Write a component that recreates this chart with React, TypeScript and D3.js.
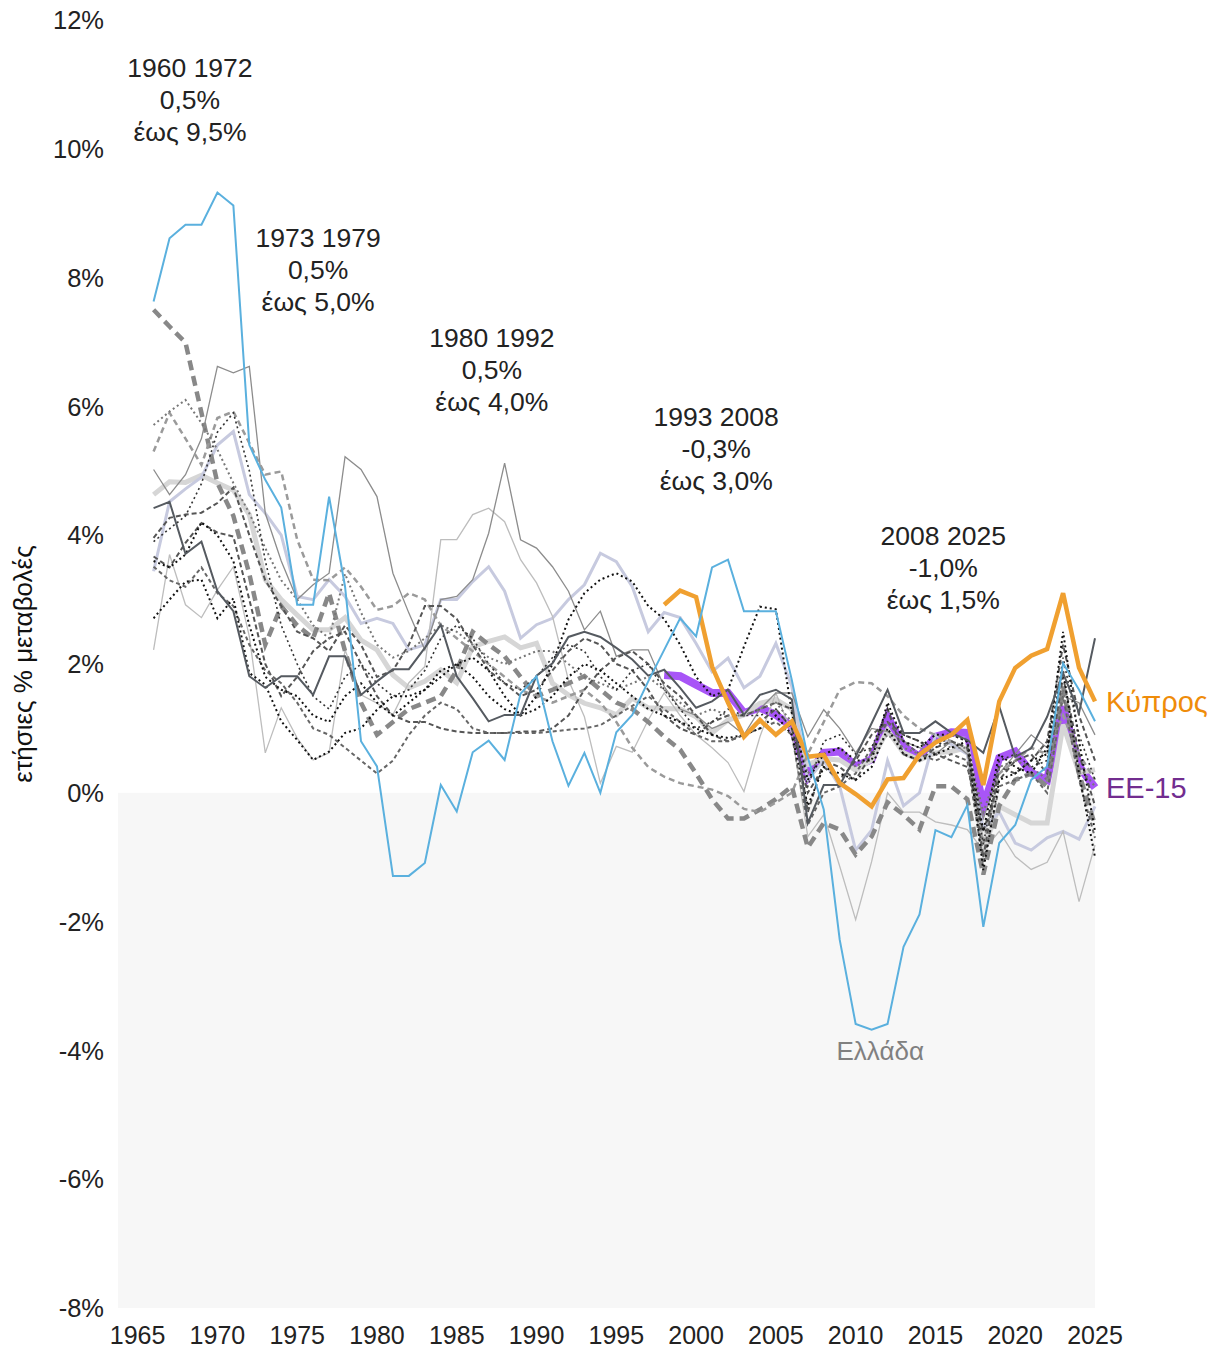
import React from 'react';
import * as d3 from 'd3';

// years shown on the chart
const years = d3.range(1966, 2026);
const yearsRecent = d3.range(1998, 2026);

const xTicks = [1965, 1970, 1975, 1980, 1985, 1990, 1995, 2000, 2005, 2010, 2015, 2020, 2025];
const yTicks = [-8, -6, -4, -2, 0, 2, 4, 6, 8, 10, 12];

// annual % change
const greece = [
  7.63, 8.61, 8.82, 8.82, 9.32, 9.12, 5.40, 4.86, 4.43, 2.92,
  2.92, 4.60, 3.20, 0.80, 0.41, -1.29, -1.29, -1.09, 0.12, -0.29,
  0.63, 0.81, 0.51, 1.54, 1.81, 0.80, 0.11, 0.62, 0.00, 0.94,
  1.21, 1.73, 2.22, 2.71, 2.43, 3.50, 3.62, 2.82, 2.82, 2.82,
  1.75, 0.55, -0.26, -2.28, -3.59, -3.68, -3.59, -2.39, -1.89, -0.58,
  -0.69, -0.19, -2.08, -0.78, -0.50, 0.20, 0.41, 2.01, 1.60, 1.11,
];
const cyprus = [
  2.92, 3.14, 3.04, 1.96, 1.40, 0.87, 1.13, 0.90, 1.11, 0.56,
  0.59, 0.15, -0.02, -0.21, 0.21, 0.23, 0.59, 0.78, 0.90, 1.13,
  0.12, 1.42, 1.94, 2.13, 2.23, 3.10, 1.94, 1.42,
];
const eu15 = [
  1.83, 1.81, 1.68, 1.55, 1.55, 1.24, 1.32, 1.21, 1.03, 0.25,
  0.62, 0.64, 0.41, 0.52, 1.18, 0.72, 0.56, 0.87, 0.94, 0.93,
  -0.21, 0.54, 0.64, 0.31, 0.20, 1.34, 0.41, 0.08,
];
// the other EU-15 countries (grey lines)
const greyThick = [
  4.63, 4.83, 4.82, 4.93, 4.81, 4.70, 4.32, 3.31, 3.00, 2.76,
  2.53, 2.53, 2.72, 2.37, 2.22, 1.83, 1.63, 1.73, 1.91, 1.71,
  2.27, 2.35, 2.42, 2.25, 2.32, 1.70, 1.52, 1.39, 1.32, 1.21,
  1.47, 1.32, 1.31, 1.30, 1.18, 0.93, 1.13, 1.21, 1.39, 1.45,
  1.30, 0.44, 0.53, 0.51, 0.35, 0.51, 0.97, 0.62, 0.51, 0.62,
  0.64, 0.70, -0.88, -0.21, -0.34, -0.47, -0.47, 1.06, 0.31, 0.36,
];
const lavender = [
  3.44, 4.52, 4.72, 4.90, 5.40, 5.61, 4.63, 4.34, 4.00, 3.05,
  3.00, 3.31, 3.05, 2.63, 2.71, 2.63, 2.22, 2.30, 3.00, 3.00,
  3.28, 3.51, 3.13, 2.40, 2.61, 2.71, 3.00, 3.23, 3.72, 3.59,
  3.20, 2.50, 2.80, 2.72, 2.32, 1.88, 2.09, 1.63, 1.81, 2.32,
  1.65, 0.20, 0.50, 0.10, -0.89, -0.58, 0.50, -0.20, 0.00, 0.90,
  0.75, 0.60, -0.55, -0.30, -0.78, -0.89, -0.70, -0.60, -0.72, -0.21,
];
const darkSolid = [
  4.42, 4.52, 3.71, 3.90, 3.13, 2.82, 1.81, 1.63, 1.81, 1.81,
  1.52, 2.12, 2.12, 1.52, 1.73, 1.92, 1.92, 2.25, 2.61, 1.81,
  1.47, 1.11, 1.21, 1.21, 1.82, 2.01, 2.42, 2.50, 2.42, 2.25,
  2.07, 1.82, 1.91, 1.63, 1.32, 1.42, 1.60, 1.21, 1.52, 1.60,
  1.45, -0.47, 0.12, 0.12, 0.56, 1.08, 1.60, 0.93, 0.93, 1.11,
  0.93, 0.82, 0.62, 1.34, 0.56, 0.69, 1.18, 1.86, 1.24, 2.40,
];
const midThin = [
  5.02, 4.63, 4.94, 5.50, 6.62, 6.52, 6.62, 4.34, 3.60, 3.00,
  3.23, 3.41, 5.22, 5.02, 4.60, 3.41, 2.79, 2.22, 3.00, 3.05,
  3.31, 4.03, 5.12, 3.93, 3.80, 3.51, 3.13, 2.53, 2.82, 2.12,
  2.22, 2.22, 1.65, 1.30, 1.20, 1.00, 1.10, 0.90, 1.30, 1.55,
  1.55, 0.87, 1.29, 1.00, 0.62, 1.00, 0.95, 0.80, 0.70, 0.60,
  0.80, 0.60, -0.40, 0.30, 0.60, 0.90, 0.70, 1.50, 1.40, 0.90,
];
const lightThin = [
  2.22, 3.70, 2.92, 2.72, 3.15, 3.51, 2.43, 0.62, 1.32, 0.85,
  0.51, 0.62, 2.22, 1.52, 1.39, 1.21, 1.71, 1.96, 3.93, 3.93,
  4.32, 4.42, 4.21, 3.62, 3.26, 2.74, 1.75, 1.18, 0.15, 0.72,
  0.63, 1.13, 1.55, 1.20, 0.90, 0.70, 0.47, 0.02, 0.87, 1.55,
  0.93, -0.68, -0.34, -1.14, -1.97, -1.07, 0.00, -0.30, -0.30, -0.45,
  -0.50, -0.57, -0.90, -0.60, -0.99, -1.19, -1.08, -0.60, -1.69, -0.81,
];
const thickDash = [
  7.50, 7.24, 6.99, 5.90, 4.81, 4.30, 3.40, 2.30, 2.90, 2.60,
  2.40, 3.10, 2.20, 1.40, 0.90, 1.10, 1.30, 1.40, 1.50, 1.90,
  2.50, 2.30, 2.12, 1.80, 1.50, 1.60, 1.70, 1.81, 1.60, 1.40,
  1.30, 1.10, 0.87, 0.67, 0.30, -0.10, -0.40, -0.40, -0.26, -0.10,
  0.10, -0.85, -0.47, -0.57, -0.96, -0.68, -0.15, -0.34, -0.57, 0.10,
  0.10, -0.10, -1.27, -0.20, 0.20, 0.30, 0.10, 1.65, 0.30, -0.50,
];
const midDash = [
  5.30, 5.90, 5.50, 5.09, 5.82, 5.92, 5.43, 4.94, 4.99, 3.93,
  3.31, 3.30, 3.50, 3.20, 2.84, 2.90, 3.10, 3.00, 2.60, 2.40,
  2.20, 2.00, 1.80, 1.60, 1.50, 1.40, 1.50, 1.60, 1.40, 1.10,
  0.70, 0.40, 0.25, 0.15, 0.10, 0.05, -0.05, -0.25, -0.30, -0.15,
  0.00, 0.60, 1.10, 1.60, 1.72, 1.70, 1.50, 1.20, 1.00, 0.90,
  0.80, 0.70, -0.80, 0.30, 0.50, 0.70, 0.60, 1.20, 0.60, 0.20,
];
const darkDashA = [
  3.96, 4.27, 4.32, 4.35, 4.50, 4.74, 4.00, 3.30, 2.90, 2.50,
  2.40, 2.20, 2.60, 2.30, 1.80, 1.90, 2.30, 2.90, 2.90, 2.70,
  2.30, 1.90, 1.70, 1.50, 1.60, 1.90, 2.20, 2.40, 2.30, 2.00,
  1.90, 1.60, 1.20, 1.00, 0.90, 1.10, 1.20, 1.20, 1.30, 1.40,
  1.30, -0.30, 0.50, 0.40, 0.20, 0.60, 1.30, 0.60, 0.50, 0.70,
  0.80, 0.70, -1.00, 0.40, 0.30, 0.50, 0.80, 2.30, 1.20, 0.50,
];
const darkDashB = [
  3.67, 3.50, 3.88, 4.19, 4.04, 3.98, 3.00, 2.00, 1.50, 1.80,
  2.20, 2.40, 2.50, 2.00, 1.50, 1.20, 1.10, 1.10, 1.00, 0.95,
  0.93, 0.93, 0.93, 0.95, 0.95, 1.00, 1.20, 1.60, 1.90, 2.10,
  2.20, 2.00, 1.70, 1.50, 1.20, 0.90, 0.80, 0.90, 1.10, 1.30,
  1.00, 0.00, 0.40, 0.20, 0.50, 0.90, 1.10, 0.90, 0.80, 0.60,
  0.50, 0.40, -0.60, 0.20, 0.50, 0.60, 0.30, 1.80, 0.60, -0.20,
];
const darkDashC = [
  3.51, 3.30, 3.20, 3.50, 3.10, 2.90, 2.30, 1.90, 1.70, 1.40,
  1.00, 0.90, 0.70, 0.50, 0.30, 0.50, 0.90, 1.20, 1.40, 1.30,
  1.00, 0.93, 0.93, 0.93, 0.93, 0.95, 0.98, 1.00, 1.05, 1.20,
  1.35, 1.50, 1.30, 1.10, 0.90, 0.80, 0.80, 0.90, 1.00, 1.10,
  0.90, -0.50, 0.00, 0.10, 0.30, 0.70, 1.10, 0.80, 0.60, 0.50,
  0.60, 0.50, -1.10, 0.10, 0.20, 0.30, 0.00, 1.50, 0.20, -0.70,
];
const dotA = [
  2.71, 3.00, 3.28, 3.31, 2.71, 3.02, 1.86, 1.68, 1.11, 0.82,
  0.51, 0.64, 0.93, 1.00, 1.29, 1.50, 1.50, 1.60, 1.80, 2.00,
  2.10, 1.90, 1.50, 1.20, 1.30, 1.50, 1.80, 2.00, 1.90, 1.70,
  1.50, 1.30, 1.20, 1.10, 1.00, 0.90, 0.85, 0.90, 1.00, 1.20,
  0.90, -0.20, 0.40, 0.30, 0.20, 0.40, 1.00, 0.60, 0.50, 0.60,
  0.70, 0.80, -1.20, 0.20, 0.30, 0.50, 0.60, 2.50, 0.80, -0.60,
];
const dotB = [
  3.60, 3.50, 3.70, 4.20, 4.00, 3.60, 2.60, 1.80, 1.60, 1.50,
  1.20, 1.10, 1.50, 1.70, 1.40, 1.20, 1.40, 1.60, 1.90, 2.00,
  1.80, 1.50, 1.30, 1.20, 1.50, 2.00, 2.69, 3.10, 3.31, 3.41,
  3.28, 2.90, 2.70, 2.30, 1.80, 1.50, 1.60, 2.27, 2.89, 2.85,
  1.24, 0.20, 0.60, 0.70, 0.50, 0.50, 1.40, 0.80, 0.70, 0.90,
  0.90, 0.80, -0.60, 0.60, 0.40, 0.30, 0.70, 1.90, 0.30, -1.00,
];
const dotC = [
  3.90, 4.10, 4.30, 4.80, 5.60, 5.90, 5.00, 3.60, 2.60, 2.00,
  1.50, 1.30, 1.80, 2.00, 1.70, 1.50, 1.60, 1.90, 2.40, 2.60,
  2.40, 2.00, 1.70, 1.60, 1.80, 2.10, 2.30, 2.20, 1.80, 1.60,
  1.90, 2.00, 1.60, 1.30, 1.00, 1.10, 1.30, 1.20, 1.20, 1.30,
  1.00, 0.10, 0.80, 0.90, 0.60, 0.70, 1.30, 0.90, 0.80, 0.70,
  0.90, 0.80, -0.80, 0.50, 0.60, 0.40, 0.50, 2.10, 0.90, 0.20,
];
const greyDot = [
  5.71, 5.92, 6.10, 5.74, 5.33, 4.81, 4.34, 3.80, 3.30, 3.00,
  2.60, 2.40, 3.40, 2.80, 2.30, 2.10, 2.20, 2.40, 2.60, 2.50,
  2.30, 2.10, 2.00, 2.10, 2.20, 2.20, 2.00, 1.80, 1.70, 1.60,
  1.70, 1.80, 1.60, 1.40, 1.20, 1.30, 1.20, 1.20, 1.30, 1.40,
  1.10, 0.30, 0.60, 0.70, 0.40, 0.60, 0.90, 0.70, 0.60, 0.80,
  0.70, 0.70, -0.30, 0.40, 0.50, 0.40, 0.20, 1.60, 0.40, 0.10,
];

const periods = [
  { lines: ['1960 1972', '0,5%', 'έως 9,5%'], year: 1968.28, pct: 11.27 },
  { lines: ['1973 1979', '0,5%', 'έως 5,0%'], year: 1976.31, pct: 8.62 },
  { lines: ['1980 1992', '0,5%', 'έως 4,0%'], year: 1987.2, pct: 7.07 },
  { lines: ['1993 2008', '-0,3%', 'έως 3,0%'], year: 2001.26, pct: 5.85 },
  { lines: ['2008 2025', '-1,0%', 'έως 1,5%'], year: 2015.49, pct: 4.0 },
];

const W = 1221;
const H = 1349;
const FONT = '"Liberation Sans", Arial, Helvetica, sans-serif';

// draw order: first is at the bottom
const series = [
  { values: eu15, yrs: yearsRecent, color: '#a855f7', width: 8 },
  { values: greyThick, yrs: years, color: '#d6d6d6', width: 5 },
  { values: lavender, yrs: years, color: '#c7cadf', width: 3 },
  { values: lightThin, yrs: years, color: '#bdbdbd', width: 1.3 },
  { values: midThin, yrs: years, color: '#8c8c8c', width: 1.3 },
  { values: thickDash, yrs: years, color: '#888888', width: 4.5, dash: '10,6' },
  { values: midDash, yrs: years, color: '#9a9a9a', width: 2.5, dash: '6,4' },
  { values: darkDashA, yrs: years, color: '#555555', width: 2, dash: '5,3' },
  { values: darkDashB, yrs: years, color: '#555555', width: 2, dash: '5,3' },
  { values: darkDashC, yrs: years, color: '#666666', width: 2, dash: '4,3' },
  { values: greyDot, yrs: years, color: '#777777', width: 2, dash: '2,3' },
  { values: dotA, yrs: years, color: '#111111', width: 2, dash: '2,3' },
  { values: dotB, yrs: years, color: '#111111', width: 2, dash: '2,3' },
  { values: dotC, yrs: years, color: '#333333', width: 1.6, dash: '2,3' },
  { values: darkSolid, yrs: years, color: '#555a60', width: 2 },
  { values: cyprus, yrs: yearsRecent, color: '#f0a030', width: 4.5 },
  { values: greece, yrs: years, color: '#5ab0de', width: 2 },
];

export default function App() {
  const x = d3.scaleLinear().domain([1963.77, 2025]).range([118, 1095]);
  const y = d3.scaleLinear().domain([-8, 12]).range([1308, 20]);

  const pathFor = (yrs: number[], vals: number[]) =>
    d3.line<number>()
      .x((_, i) => x(yrs[i]))
      .y(d => y(d))(vals) || '';

  const lastX = x(2025);

  return (
    <svg width={W} height={H} style={{ position: 'absolute', left: 0, top: 0, background: '#fff' }}>
      {/* negative zone */}
      <rect x={x.range()[0]} y={y(0)} width={lastX - x.range()[0]} height={y(-8) - y(0)} fill="#f7f7f7" />

      {series.map((s, i) => (
        <path
          key={i}
          d={pathFor(s.yrs, s.values)}
          fill="none"
          stroke={s.color}
          strokeWidth={s.width}
          strokeDasharray={s.dash}
          strokeLinejoin="miter"
        />
      ))}

      {/* y axis labels */}
      {yTicks.map(t => (
        <text key={t} x={104} y={y(t)} dy="0.36em" textAnchor="end" fontFamily={FONT} fontSize={25.5} fill="#222">
          {`${t}%`}
        </text>
      ))}
      <text
        transform={`translate(32,${y(2)}) rotate(-90)`}
        textAnchor="middle"
        fontFamily={FONT}
        fontSize={26}
        fill="#111"
      >
        ετήσιες % μεταβολές
      </text>

      {/* x axis labels */}
      {xTicks.map(t => (
        <text
          key={t}
          x={x(t)}
          y={1335}
          dy="0.36em"
          textAnchor="middle"
          fontFamily={FONT}
          fontSize={25}
          fill="#222"
        >
          {t}
        </text>
      ))}

      {/* period annotations */}
      {periods.map((p, i) => (
        <g key={i}>
          {p.lines.map((l, j) => (
            <text
              key={j}
              x={x(p.year)}
              y={y(p.pct) + j * 32}
              dy="0.36em"
              textAnchor="middle"
              fontFamily={FONT}
              fontSize={26.5}
              fill="#222"
            >
              {l}
            </text>
          ))}
        </g>
      ))}

      {/* series labels */}
      <text x={x(2011.54)} y={y(-4)} dy="0.36em" textAnchor="middle" fontFamily={FONT} fontSize={26} fill="#808080">
        Ελλάδα
      </text>
      <text x={lastX + 11} y={y(cyprus[cyprus.length - 1])} dy="0.36em" fontFamily={FONT} fontSize={29} fill="#ef8c0a">
        Κύπρος
      </text>
      <text x={lastX + 11} y={y(eu15[eu15.length - 1])} dy="0.36em" fontFamily={FONT} fontSize={29} fill="#722d8f">
        ΕΕ-15
      </text>
    </svg>
  );
}
